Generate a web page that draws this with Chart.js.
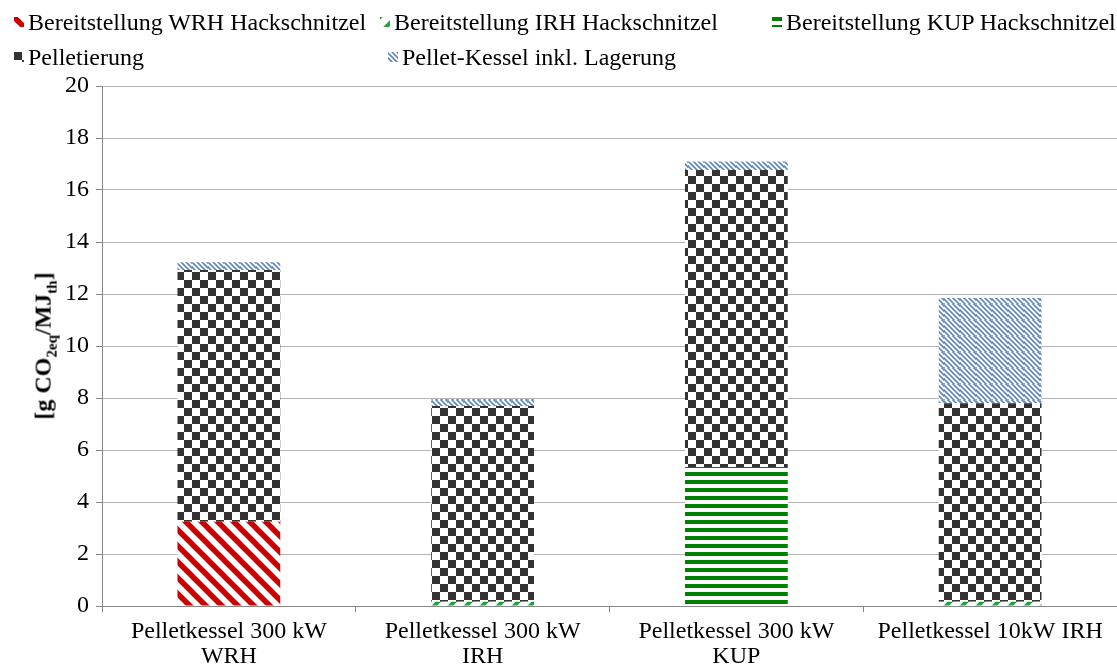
<!DOCTYPE html>
<html>
<head>
<meta charset="utf-8">
<script src="https://cdn.jsdelivr.net/npm/chart.js@4.4.1/dist/chart.umd.min.js"></script>
<style>
  body { margin: 0; background: #fff; font-family: "Liberation Serif", "Times New Roman", serif; }
  #wrap { position: relative; width: 1117px; height: 670px; }
  #chart { position: absolute; left: 0; top: 0; }
  .leg { position: absolute; font-size: 24px; line-height: 26px; white-space: nowrap; color: #000; }
  .leg canvas { display: inline-block; vertical-align: middle; margin-right: 4px; position: relative; top: -2px; }
  #ytitle { position: absolute; left: 45px; top: 346px; transform: translate(-50%, -50%) rotate(-90deg);
            font-weight: bold; font-size: 24px; white-space: nowrap; }
  #ytitle sub { font-size: 15px; }
</style>
</head>
<body>
<div id="wrap">
  <canvas id="chart" width="1117" height="670"></canvas>
  <div id="legend"></div>
  <div id="ytitle">[g CO<sub>2eq</sub>/MJ<sub>th</sub>]</div>
</div>
<script>
const categories = [
    ['Pelletkessel 300 kW', 'WRH'],
    ['Pelletkessel 300 kW', 'IRH'],
    ['Pelletkessel 300 kW', 'KUP'],
    'Pelletkessel 10kW IRH'
];
const wrhHack = [3.24, 0, 0, 0];
const irhHack = [0, 0.16, 0, 0.16];
const kupHack = [0, 0, 5.35, 0];
const pelletierung = [9.68, 7.53, 11.42, 7.64];
const kesselLager = [0.30, 0.27, 0.33, 4.05];
const yTicks = [0, 2, 4, 6, 8, 10, 12, 14, 16, 18, 20];

// pattern painters, one per series
const painters = {
    redDiag(g) {
        g.strokeStyle = '#cc0000'; g.lineWidth = 5.5;
        [-16, 0, 16].forEach(o => { g.beginPath(); g.moveTo(o - 2, -2); g.lineTo(o + 18, 18); g.stroke(); });
    },
    greenDiag(g) {
        g.strokeStyle = '#1fa33a'; g.lineWidth = 4;
        [-16, 0, 16].forEach(o => { g.beginPath(); g.moveTo(o - 2, 18); g.lineTo(o + 18, -2); g.stroke(); });
    },
    greenHoriz(g) {
        g.fillStyle = '#008000'; g.fillRect(0, 0, 16, 4);
        g.fillRect(0, 8, 16, 4);
    },
    checker(g) {
        g.fillStyle = '#333333'; g.fillRect(0, 0, 8, 8); g.fillRect(8, 8, 8, 8);
    },
    blueDiag(g) {
        g.strokeStyle = '#5f84c0'; g.lineWidth = 1.6;
        [-16, -11, -6, -1, 4, 9, 14].forEach(o => { g.beginPath(); g.moveTo(o - 2, -2); g.lineTo(o + 18, 18); g.stroke(); });
    }
};

function makePattern(ctx, name) {
    const c = document.createElement('canvas');
    c.width = 16; c.height = 16;
    const g = c.getContext('2d');
    g.fillStyle = '#fff';
    g.fillRect(0, 0, 16, 16);
    painters[name](g);
    return ctx.createPattern(c, 'repeat');
}

const series = [
    { label: 'Bereitstellung WRH Hackschnitzel', data: wrhHack, fill: 'redDiag' },
    { label: 'Bereitstellung IRH Hackschnitzel', data: irhHack, fill: 'greenDiag' },
    { label: 'Bereitstellung KUP Hackschnitzel', data: kupHack, fill: 'greenHoriz' },
    { label: 'Pelletierung', data: pelletierung, fill: 'checker' },
    { label: 'Pellet-Kessel inkl. Lagerung', data: kesselLager, fill: 'blueDiag' }
];

const ctx = document.getElementById('chart').getContext('2d');
const font = { family: '"Liberation Serif", "Times New Roman", serif', size: 24, lineHeight: 1.05 };

const chart = new Chart(ctx, {
    type: 'bar',
    data: {
        labels: categories,
        datasets: series.map(s => ({
            label: s.label,
            data: s.data,
            backgroundColor: makePattern(ctx, s.fill),
            borderWidth: 0,
            categoryPercentage: 0.405,
            barPercentage: 1
        }))
    },
    options: {
        responsive: false,
        animation: false,
        layout: { padding: { left: 0, top: 86, right: 0, bottom: 0 } },
        plugins: { legend: { display: false }, tooltip: { enabled: false } },
        scales: {
            x: {
                stacked: true,
                grid: { drawOnChartArea: false, drawTicks: true, tickLength: 6, color: '#868686' },
                border: { color: '#868686' },
                ticks: { color: '#000', font: font, padding: 7, maxRotation: 0 },
                afterFit: s => { s.height = 64; }
            },
            y: {
                stacked: true,
                min: 0,
                max: 20,
                afterBuildTicks: s => { s.ticks = yTicks.map(v => ({ value: v })); },
                grid: { color: '#b4b4b4', tickLength: 6, tickColor: '#868686' },
                border: { color: '#868686' },
                ticks: { color: '#000', font: font, padding: 7 },
                afterFit: s => { s.width = 102; }
            }
        }
    }
});

// legend laid out in the same two-row grid as the original
const legendSpots = [
    { x: 14, y: 9 }, { x: 380, y: 9 }, { x: 772, y: 9 },
    { x: 14, y: 44 }, { x: 388, y: 44 }
];
const legendEl = document.getElementById('legend');
chart.data.datasets.forEach((ds, i) => {
    const item = document.createElement('div');
    item.className = 'leg';
    item.style.left = legendSpots[i].x + 'px';
    item.style.top = legendSpots[i].y + 'px';
    const icon = document.createElement('canvas');
    icon.width = 10; icon.height = 10;
    const ic = icon.getContext('2d');
    ic.fillStyle = makePattern(ic, series[i].fill);
    ic.fillRect(0, 0, 10, 10);
    item.appendChild(icon);
    const txt = document.createElement('span');
    txt.textContent = ds.label;
    item.appendChild(txt);
    legendEl.appendChild(item);
});
</script>
</body>
</html>
